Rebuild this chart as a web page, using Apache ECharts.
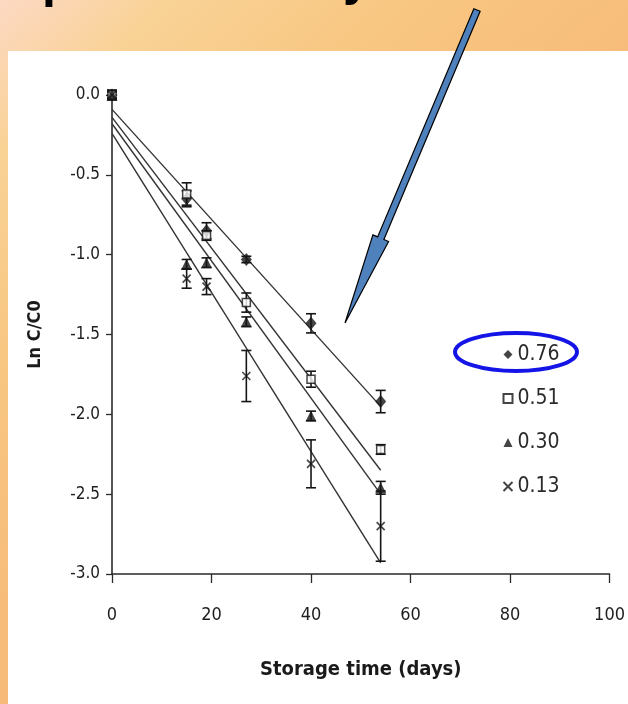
<!DOCTYPE html>
<html><head><meta charset="utf-8">
<script src="https://cdn.jsdelivr.net/npm/echarts@6/dist/echarts.min.js"></script>
<style>html,body{margin:0;padding:0;background:#fff}#c{width:628px;height:704px}</style>
</head><body><div id="c"></div>
<script>
// ---- data ----
const days = [0, 15, 19, 27, 40, 54];
const seriesNames = ['0.76', '0.51', '0.30', '0.13'];
const vals076 = [0, -0.65, -0.85, -1.03, -1.43, -1.92];
const err076  = [0.03, 0.05, 0.05, 0.02, 0.06, 0.07];
const vals051 = [0, -0.62, -0.88, -1.30, -1.78, -2.22];
const err051  = [0.03, 0.07, 0.03, 0.06, 0.05, 0.03];
const vals030 = [0, -1.06, -1.05, -1.42, -2.01, -2.46];
const err030  = [0.02, 0.03, 0.03, 0.03, 0.03, 0.04];
const vals013 = [0, -1.15, -1.20, -1.76, -2.31, -2.70];
const err013  = [0.02, 0.06, 0.05, 0.16, 0.15, 0.22];
const fitDays = [0, 54];
const fit076 = [-0.09, -1.95];
const fit051 = [-0.14, -2.35];
const fit030 = [-0.18, -2.50];
const fit013 = [-0.24, -2.93];
const xTickValues = [0, 20, 40, 60, 80, 100];
const yTickValues = [0, -0.5, -1, -1.5, -2, -2.5, -3];

const NARROW = "'Liberation Sans Narrow','Arial Narrow','DejaVu Sans Condensed',sans-serif";
const INK = '#151515';

const chart = echarts.init(document.getElementById('c'), null, {renderer: 'canvas'});

const groups = [
  {name: seriesNames[0], vals: vals076, err: err076, fit: fit076, symbol: 'diamond', size: [11, 13], filled: true},
  {name: seriesNames[1], vals: vals051, err: err051, fit: fit051, symbol: 'rect', size: 8, filled: false},
  {name: seriesNames[2], vals: vals030, err: err030, fit: fit030, symbol: 'triangle', size: 11, filled: true},
  {name: seriesNames[3], vals: vals013, err: err013, fit: fit013, symbol: 'path://M0,0L10,10M10,0L0,10', size: 8, filled: false, cross: true}
];

const series = [];
groups.forEach(g => {
  series.push({
    type: 'line', name: 'fit ' + g.name, silent: true, symbol: 'none',
    data: fitDays.map((d, i) => [d, g.fit[i]]),
    lineStyle: {color: '#333333', width: 1.4}, z: 2
  });
});
groups.forEach(g => {
  series.push({
    type: 'custom', name: 'err ' + g.name, silent: true,
    data: days.map((d, i) => [d, g.vals[i], g.err[i]]),
    renderItem: function (params, api) {
      const x = api.value(0), y = api.value(1), e = api.value(2);
      const hi = api.coord([x, y + e]);
      const lo = api.coord([x, y - e]);
      const w = 5;
      const st = {stroke: INK, lineWidth: 1.6};
      return {type: 'group', children: [
        {type: 'line', shape: {x1: hi[0], y1: hi[1], x2: lo[0], y2: lo[1]}, style: st},
        {type: 'line', shape: {x1: hi[0] - w, y1: hi[1], x2: hi[0] + w, y2: hi[1]}, style: st},
        {type: 'line', shape: {x1: lo[0] - w, y1: lo[1], x2: lo[0] + w, y2: lo[1]}, style: st}
      ]};
    },
    z: 3
  });
});
groups.forEach(g => {
  series.push({
    type: 'scatter', name: g.name, symbol: g.symbol, symbolSize: g.size,
    data: days.map((d, i) => [d, g.vals[i]]),
    itemStyle: g.filled ? {color: INK} : (g.cross ? {color: 'none', borderColor: INK, borderWidth: 1.6} : {color: '#fff', borderColor: INK, borderWidth: 1.5}),
    z: 4
  });
});

// arrow geometry
const tail = [477, 10], tip = [345, 323];
const dx = tip[0] - tail[0], dy = tip[1] - tail[1];
const L = Math.hypot(dx, dy);
const u = [dx / L, dy / L], n = [-u[1], u[0]];
const headLen = 92, headHalf = 8.5, shaftHalf = 3.4;
const base = [tip[0] - u[0] * headLen, tip[1] - u[1] * headLen];
const P = (p, k) => [p[0] + n[0] * k, p[1] + n[1] * k];
const arrowPts = [P(tail, shaftHalf), P(base, shaftHalf), P(base, headHalf), tip, P(base, -headHalf), P(base, -shaftHalf), P(tail, -shaftHalf)];

chart.setOption({
  animation: false,
  backgroundColor: new echarts.graphic.LinearGradient(0, 0, 1, 1, [
    {offset: 0, color: '#fdd9c4'},
    {offset: 0.12, color: '#f9d296'},
    {offset: 0.3, color: '#f8c680'},
    {offset: 0.5, color: '#f7bb7a'},
    {offset: 1, color: '#f6b575'}
  ]),
  grid: {left: 112, right: 17, top: 95, bottom: 130, containLabel: false},
  xAxis: {
    type: 'value', min: 0, max: 100, interval: 20,
    name: 'Storage time (days)', nameLocation: 'middle', nameGap: 86,
    nameTextStyle: {fontFamily: NARROW, fontWeight: 'bold', fontSize: 20, color: '#1a1a1a'},
    axisLine: {onZero: false, lineStyle: {color: '#2a2a2a', width: 1.6}},
    axisTick: {inside: false, length: 9, lineStyle: {color: '#2a2a2a', width: 1.3}},
    axisLabel: {fontFamily: NARROW, fontSize: 18, color: '#1e1e1e', margin: 32,
      formatter: v => xTickValues.includes(v) ? String(v) : ''},
    splitLine: {show: false}
  },
  yAxis: {
    type: 'value', min: -3, max: 0, interval: 0.5,
    name: 'Ln C/C0', nameLocation: 'middle', nameGap: 68,
    nameTextStyle: {fontFamily: NARROW, fontWeight: 'bold', fontSize: 18, color: '#1a1a1a'},
    axisLine: {onZero: false, lineStyle: {color: '#2a2a2a', width: 1.6}},
    axisTick: {inside: false, length: 6, lineStyle: {color: '#2a2a2a', width: 1.3}},
    axisLabel: {fontFamily: NARROW, fontSize: 17, color: '#1e1e1e', margin: 12,
      formatter: v => yTickValues.some(t => Math.abs(t - v) < 1e-9) ? v.toFixed(1) : ''},
    splitLine: {show: false}
  },
  legend: {
    data: seriesNames.map(nm => ({name: nm})),
    orient: 'vertical', left: 496, top: 339,
    itemWidth: 9, itemHeight: 9, itemGap: 23,
    textStyle: {fontFamily: NARROW, fontSize: 21, color: '#2a2a2a'},
    selectedMode: false
  },
  graphic: [
    {type: 'rect', shape: {x: 8, y: 51, width: 620, height: 653}, style: {fill: '#ffffff'}, z: -100, silent: true},
    {type: 'text', x: 42, y: 8, z: 50, silent: true,
      style: {text: 'p', font: "bold 50px 'Liberation Sans',Arial,sans-serif", fill: '#000', verticalAlign: 'bottom'}},
    {type: 'text', x: 343, y: 6, z: 50, silent: true,
      style: {text: 'y', font: "bold 50px 'Liberation Sans',Arial,sans-serif", fill: '#000', verticalAlign: 'bottom'}},
    {type: 'ellipse', shape: {cx: 516, cy: 352, rx: 61, ry: 19}, style: {fill: 'none', stroke: '#1414e6', lineWidth: 4}, z: 60, silent: true},
    {type: 'polygon', shape: {points: arrowPts}, style: {fill: '#4f81bd', stroke: '#000', lineWidth: 1.2}, z: 60, silent: true}
  ],
  series: series
});
</script>
</body></html>
